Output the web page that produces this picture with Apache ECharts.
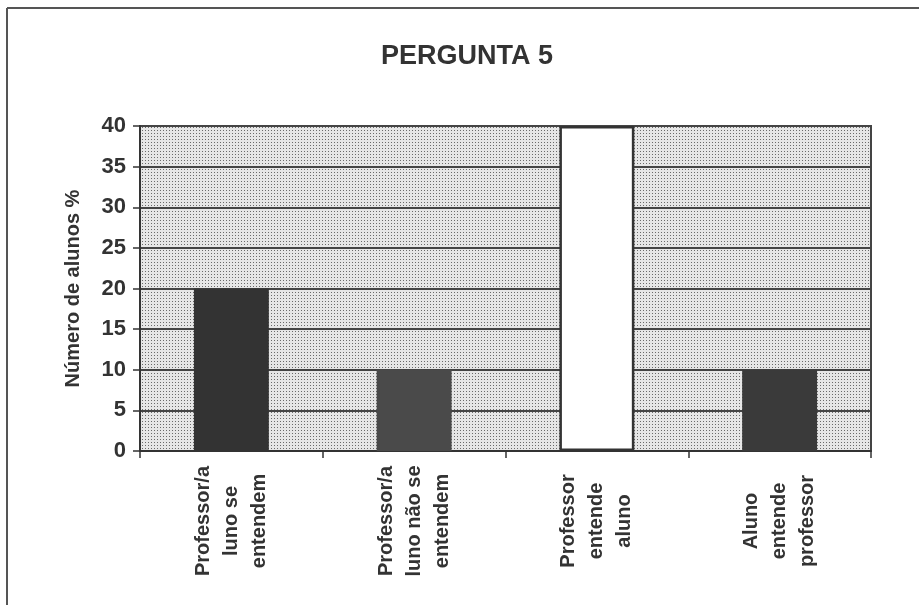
<!DOCTYPE html>
<html>
<head>
<meta charset="utf-8">
<script src="https://cdn.jsdelivr.net/npm/echarts@6/dist/echarts.min.js"></script>
<style>html,body{margin:0;padding:0;background:#fff}#c{width:919px;height:605px}</style>
</head>
<body>
<div id="c"></div>
<script>
const titleText = 'PERGUNTA 5';
const yAxisName = 'Número de alunos %';
const categories = [
  'Professor/a\nluno se\nentendem',
  'Professor/a\nluno não se\nentendem',
  'Professor\nentende\naluno',
  'Aluno\nentende\nprofessor'
];
const values = [20, 10, 40, 10];
const barColors = ['#333333', '#4a4a4a', '#ffffff', '#3a3a3a'];
const yTicks = [0, 5, 10, 15, 20, 25, 30, 35, 40];

// dotted background pattern
const pc = document.createElement('canvas');
pc.width = 3; pc.height = 3;
const px = pc.getContext('2d');
px.fillStyle = '#e6e6e6'; px.fillRect(0, 0, 3, 3);
px.fillStyle = '#6a6a6a'; px.fillRect(1, 1, 1, 1);

const FONT = 'Liberation Sans, Arial, sans-serif';
const chart = echarts.init(document.getElementById('c'), null, {renderer: 'canvas'});
chart.setOption({
  animation: false,
  backgroundColor: '#ffffff',
  title: {
    text: titleText,
    left: 381, top: 43, padding: 0,
    textStyle: {fontFamily: FONT, fontSize: 27, fontWeight: 'bold', color: '#333'}
  },
  graphic: [
    {type: 'line', shape: {x1: 7, y1: 8, x2: 919, y2: 8}, style: {stroke: '#555', lineWidth: 2}},
    {type: 'line', shape: {x1: 7, y1: 8, x2: 7, y2: 605}, style: {stroke: '#555', lineWidth: 2}}
  ],
  grid: {
    left: 140, right: 48, top: 126, bottom: 154,
    show: true,
    backgroundColor: {image: pc, repeat: 'repeat'},
    borderColor: '#444', borderWidth: 2
  },
  xAxis: {
    type: 'category',
    data: categories,
    axisLine: {lineStyle: {color: '#333', width: 2}},
    axisTick: {show: true, length: 7, alignWithLabel: false, lineStyle: {color: '#333', width: 1.5}},
    axisLabel: {
      rotate: 90,
      align: 'center',
      verticalAlign: 'middle',
      margin: 70,
      interval: 0,
      color: '#333',
      fontFamily: FONT,
      fontSize: 20,
      fontWeight: 'bold',
      lineHeight: 28
    }
  },
  yAxis: {
    type: 'value',
    min: yTicks[0], max: yTicks[yTicks.length - 1], interval: 5,
    name: yAxisName,
    nameLocation: 'middle',
    nameRotate: 90,
    nameGap: 57,
    nameTextStyle: {fontFamily: FONT, fontSize: 20, fontWeight: 'bold', color: '#333'},
    axisLine: {show: true, lineStyle: {color: '#333', width: 2}},
    axisTick: {show: true, length: 7, lineStyle: {color: '#333', width: 1.5}},
    axisLabel: {margin: 14, color: '#333', fontFamily: FONT, fontSize: 22, fontWeight: 'bold'},
    splitLine: {show: true, lineStyle: {color: '#444', width: 2}}
  },
  series: [{
    type: 'bar',
    barWidth: '41%',
    data: values.map(function (v, i) {
      return {value: v, itemStyle: {color: barColors[i], borderColor: '#333', borderWidth: i === 2 ? 2.5 : 0}};
    })
  }]
});
</script>
</body>
</html>
